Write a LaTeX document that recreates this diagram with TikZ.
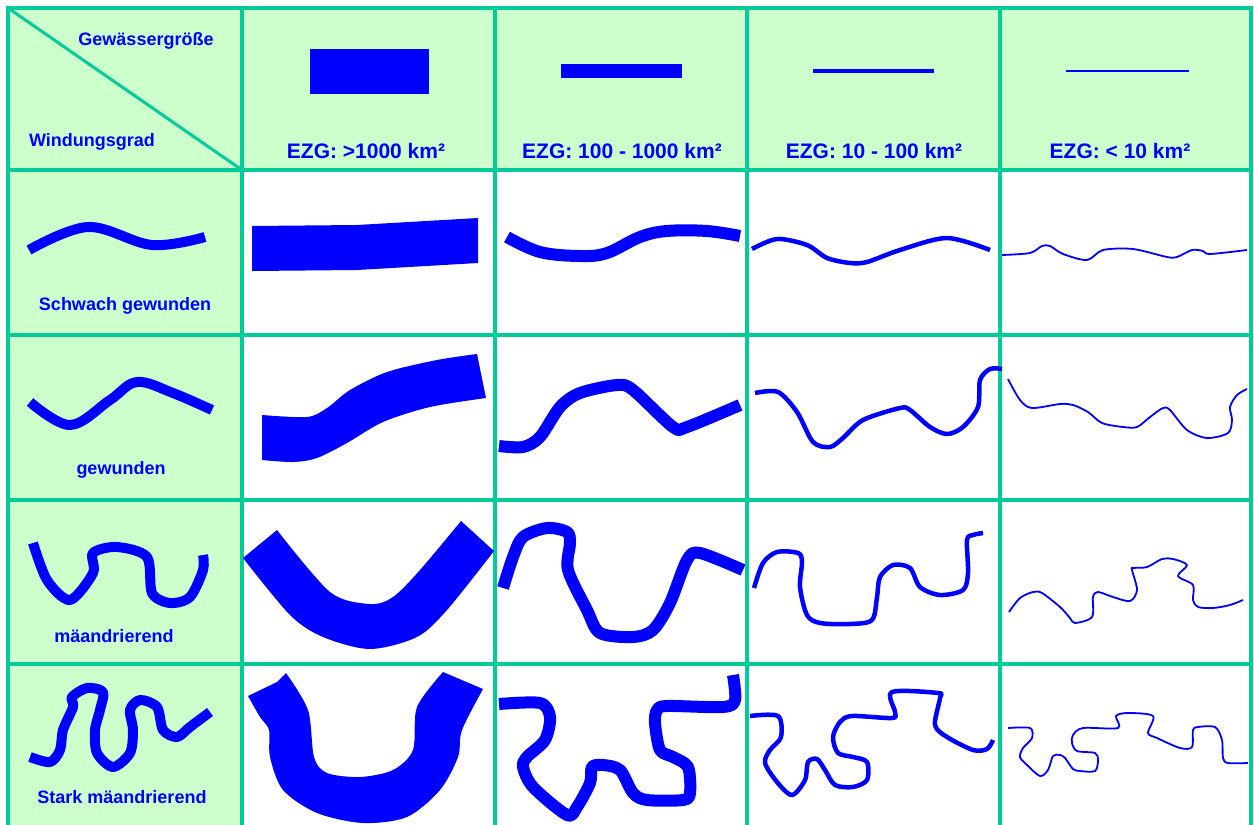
\documentclass[tikz,border=0pt]{standalone}
\usepackage{fontspec}
\setmainfont{Liberation Sans}
\definecolor{gitter}{RGB}{0,204,153}
\definecolor{hellgruen}{RGB}{204,255,204}
\definecolor{fluss}{RGB}{0,0,255}

\begin{document}
\begin{tikzpicture}[x=1pt, y=-1pt, line join=round,
  kopf/.style={anchor=base, inner sep=0pt, text=fluss, font=\bfseries\fontsize{21}{25}\selectfont},
  zeile/.style={anchor=base, inner sep=0pt, text=fluss, font=\bfseries\fontsize{18}{22}\selectfont},
  symbol/.style={draw=fluss, line width=10pt},
  breit/.style={draw=fluss, line width=12pt},
  mittel/.style={draw=fluss, line width=4.5pt},
  schmal/.style={draw=fluss, line width=1.8pt}]

  \useasboundingbox (0,0) rectangle (1254,825);
  \fill[hellgruen] (8,8) rectangle (1251,170) (8,170) rectangle (242,829);
  \foreach \x in {8,242,495,747,1000,1251}
    \draw[gitter, line width=4pt] (\x,6) -- (\x,831);
  \foreach \y in {8,170,335,500,664,829}
    \draw[gitter, line width=4pt] (6,\y) -- (1253,\y);
  \draw[gitter, line width=3pt] (8,8) -- (242,170);

  \node[zeile] (groesse) at (146,45) {Gewässergröße};
  \node[zeile] (windung) at (92,146) {Windungsgrad};

  \node[kopf] (ezg1) at (366,158) {EZG: >1000 km²};
  \node[kopf] (ezg2) at (622,158) {EZG: 100 - 1000 km²};
  \node[kopf] (ezg3) at (874,158) {EZG: 10 - 100 km²};
  \node[kopf] (ezg4) at (1120,158) {EZG: < 10 km²};

  \node[zeile] (schwach) at (125,310) {Schwach gewunden};
  \node[zeile] (gewunden) at (121,474) {gewunden};
  \node[zeile] (maeander) at (114,642) {mäandrierend};
  \node[zeile] (stark) at (122,803) {Stark mäandrierend};

  \fill[fluss] (310,49) rectangle (429,94);
  \fill[fluss] (561,64) rectangle (682,78);
  \draw[mittel] (813,71) -- (934,71);
  \draw[schmal] (1066,71) -- (1189,71);

  \draw[symbol] plot[smooth, tension=.6] coordinates {(29,250) (88,227) (152,245) (205,237)};
  \draw[symbol] plot[smooth, tension=.6] coordinates {(30,402) (70,425) (110,400) (137,382) (173,393) (212,410)};
  \draw[symbol] plot[smooth, tension=.5] coordinates {(33,543) (47,580) (70,600) (93,573) (93,553) (117,547) (147,557) (152,593) (170,603) (190,597) (203,570) (203,555)};
  \draw[symbol] plot[smooth, tension=.5] coordinates {(30,757) (50,762) (60,750) (63,730) (73,707) (72,697) (87,688) (103,692) (100,710) (95,730) (97,753) (113,767) (130,753) (133,730) (130,710) (140,700) (157,707) (163,730) (177,737) (190,727) (210,712)};

  \fill[fluss] (252,226) -- (357,225) -- (478,218) -- (478,263) -- (357,270) -- (252,271) -- cycle;
  \fill[fluss] (262,415) -- plot[smooth, tension=.5] coordinates {(262,415) (307,417) (327,408) (350,390) (387,372) (437,360) (477,354)}
    -- plot[smooth, tension=.5] coordinates {(486,398) (430,407) (383,422) (347,443) (317,458) (293,462) (262,460)} -- cycle;
  \fill[fluss] (243,558) -- (277,530) -- plot[smooth, tension=.5] coordinates {(277,530) (330,592) (370,604) (393,597) (420,570) (461,521)}
    -- plot[smooth, tension=.5] coordinates {(494,551) (447,610) (417,637) (370,649) (323,637) (290,615) (243,558)} -- cycle;
  \fill[fluss] (248,696) -- (277,682) -- plot[smooth, tension=.5] coordinates {(286,673) (308,710) (314,757) (327,773) (360,777) (393,770) (413,750) (417,707) (443,672)}
    -- plot[smooth, tension=.5] coordinates {(483,689) (462,730) (458,757) (440,790) (407,817) (363,823) (317,813) (283,790) (270,757) (269,730) (260,717) (248,696)} -- cycle;

  \draw[breit] plot[smooth, tension=.6] coordinates {(507,237) (540,252) (580,256) (607,253) (640,237) (667,231) (707,231) (740,236)};
  \draw[breit] plot[smooth, tension=.5] coordinates {(499,446) (523,447) (540,437) (560,407) (580,393) (617,385) (633,390) (673,427) (687,427) (740,405)};
  \draw[breit] plot[smooth, tension=.5] coordinates {(503,588) (513,557) (523,537) (547,528) (567,532) (570,543) (568,570) (587,610) (600,633) (633,637) (653,630) (670,603) (687,560) (700,553) (743,570)};
  \draw[breit] plot[smooth, tension=.5] coordinates {(499,704) (540,703) (550,717) (545,740) (527,757) (523,767) (533,787) (567,815) (577,807) (590,783) (592,767) (603,765) (620,770) (633,793) (647,800) (683,800) (690,793) (688,767) (673,757) (660,750) (655,723) (657,710) (667,706) (723,707) (735,700) (733,675)};

  \draw[mittel] plot[smooth, tension=.5] coordinates {(752,249) (777,239) (807,245) (827,258) (850,263) (867,262) (900,250) (947,238) (990,250)};
  \draw[mittel] plot[smooth, tension=.5] coordinates {(755,393) (778,392) (797,412) (813,442) (830,447) (843,438) (863,420) (900,408) (910,410) (930,427) (947,434) (963,427) (978,407) (980,380) (990,369) (1002,369)};
  \draw[mittel] plot[smooth, tension=.5] coordinates {(754,588) (763,563) (777,552) (798,553) (802,562) (800,587) (807,615) (820,623) (850,624) (872,620) (877,597) (880,577) (893,565) (910,568) (920,587) (940,595) (963,590) (968,573) (967,540) (973,535) (983,533)};
  \draw[mittel] plot[smooth, tension=.5] coordinates {(750,716) (778,716) (781,737) (770,750) (765,763) (777,782) (792,795) (805,780) (808,762) (817,759) (825,770) (835,785) (853,787) (867,780) (867,762) (853,757) (838,753) (833,737) (840,722) (852,716) (892,718) (895,712) (892,692) (938,693) (940,698) (935,725) (947,737) (973,750) (987,749) (993,740)};

  \draw[schmal] plot[smooth, tension=.5] coordinates {(1002,255) (1030,253) (1042,246) (1050,246) (1063,254) (1087,260) (1103,250) (1133,249) (1167,257) (1177,257) (1192,250) (1203,251) (1210,254) (1247,250)};
  \draw[schmal] plot[smooth, tension=.5] coordinates {(1008,379) (1020,400) (1032,408) (1060,404) (1073,405) (1088,412) (1102,423) (1123,427) (1137,427) (1150,417) (1163,408) (1170,410) (1187,430) (1207,438) (1228,433) (1232,420) (1230,407) (1237,395) (1247,389)};
  \draw[schmal] plot[smooth, tension=.5] coordinates {(1009,612) (1020,598) (1033,592) (1042,593) (1060,607) (1070,618) (1075,623) (1092,617) (1093,597) (1098,592) (1113,597) (1130,601) (1137,590) (1132,570) (1133,568) (1147,567) (1162,559) (1173,559) (1187,565) (1178,576) (1193,585) (1193,600) (1198,607) (1213,608) (1230,605) (1243,600)};
  \draw[schmal] plot[smooth, tension=.5] coordinates {(1008,728) (1030,728) (1032,738) (1023,748) (1020,757) (1027,765) (1040,776) (1048,770) (1053,756) (1060,755) (1065,758) (1073,769) (1080,771) (1095,771) (1098,760) (1095,753) (1077,751) (1072,743) (1073,735) (1083,728) (1118,728) (1116,716) (1128,713) (1153,716) (1148,733) (1157,738) (1180,748) (1192,747) (1193,730) (1198,727) (1215,727) (1222,740) (1223,758) (1228,763) (1248,763)};

\end{tikzpicture}
\end{document}
